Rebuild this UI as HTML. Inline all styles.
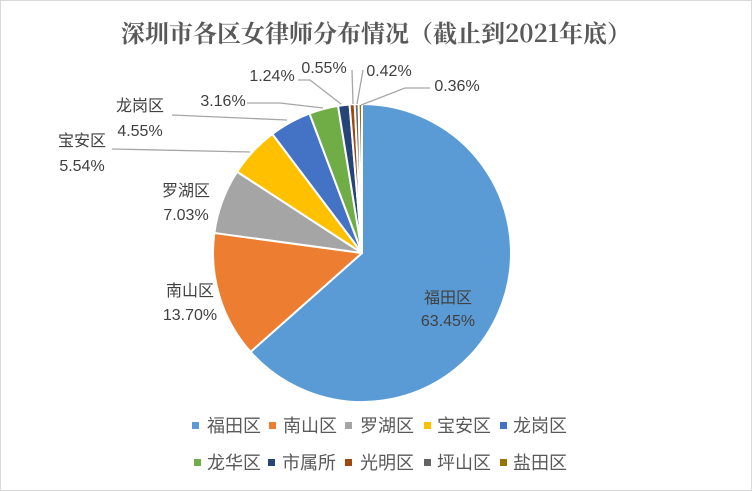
<!DOCTYPE html>
<html><head><meta charset="utf-8"><style>
body{margin:0;background:#fff}
svg{display:block;font-family:"Liberation Sans","Noto Sans CJK SC",sans-serif}
</style></head><body>
<svg id="s" width="752" height="491" viewBox="0 0 752 491">
<rect x="0.5" y="0.5" width="751" height="490" fill="#fff" stroke="#d9d9d9"/>
<text x="376" y="42" text-anchor="middle" font-family="'Noto Serif CJK SC',serif" font-size="24" font-weight="bold" fill="#595959">深圳市各区女律师分布情况（截止到2021年底）</text>
<g id="pie"></g>
<g stroke="#a6a6a6" stroke-width="1.3" fill="none">
<polyline points="112,149 250,152"/>
<polyline points="172,115 287,120"/>
<polyline points="247,103 280,103 323,108"/>
<polyline points="298,80 310,80 341,104"/>
<polyline points="352,70 353,104"/>
<polyline points="363,70 357,104"/>
<polyline points="430,88 405,88 361,105"/>
</g>
<g font-size="16" fill="#404040" text-anchor="middle">
<text x="448" y="303">福田区</text><text x="448" y="326">63.45%</text>
<text x="190" y="296">南山区</text><text x="190" y="320">13.70%</text>
<text x="186" y="196">罗湖区</text><text x="186" y="220">7.03%</text>
<text x="82" y="146">宝安区</text><text x="82" y="171">5.54%</text>
<text x="140" y="111">龙岗区</text><text x="140" y="136">4.55%</text>
<text x="223" y="106">3.16%</text>
<text x="272" y="81">1.24%</text>
<text x="324" y="73">0.55%</text>
<text x="389" y="76">0.42%</text>
<text x="457" y="91">0.36%</text>
</g>
<g font-size="18" fill="#595959">
<rect x="192" y="422" width="7" height="7" fill="#5B9BD5"/><text x="207" y="432">福田区</text>
<rect x="269" y="422" width="7" height="7" fill="#ED7D31"/><text x="283" y="432">南山区</text>
<rect x="345" y="422" width="7" height="7" fill="#A5A5A5"/><text x="360" y="432">罗湖区</text>
<rect x="424" y="422" width="7" height="7" fill="#FFC000"/><text x="437" y="432">宝安区</text>
<rect x="500" y="422" width="7" height="7" fill="#4472C4"/><text x="513" y="432">龙岗区</text>
<rect x="194" y="459" width="7" height="7" fill="#70AD47"/><text x="207" y="469">龙华区</text>
<rect x="268" y="459" width="7" height="7" fill="#264478"/><text x="282" y="469">市属所</text>
<rect x="345" y="459" width="7" height="7" fill="#9E480E"/><text x="360" y="469">光明区</text>
<rect x="424" y="459" width="7" height="7" fill="#636363"/><text x="437" y="469">坪山区</text>
<rect x="500" y="459" width="7" height="7" fill="#997300"/><text x="513" y="469">盐田区</text>
</g>
</svg>
<script>
var v=[63.45,13.70,7.03,5.54,4.55,3.16,1.24,0.55,0.42,0.36];
var c=["#5B9BD5","#ED7D31","#A5A5A5","#FFC000","#4472C4","#70AD47","#264478","#9E480E","#636363","#997300"];
var cx=362,cy=253,r=149,a=0,h="";
for(var i=0;i<v.length;i++){
 var b=a+v[i]/100*2*Math.PI;
 var x1=cx+r*Math.sin(a),y1=cy-r*Math.cos(a),x2=cx+r*Math.sin(b),y2=cy-r*Math.cos(b);
 h+='<path d="M'+cx+','+cy+'L'+x1.toFixed(2)+','+y1.toFixed(2)+'A'+r+','+r+' 0 '+((b-a)>Math.PI?1:0)+' 1 '+x2.toFixed(2)+','+y2.toFixed(2)+'Z" fill="'+c[i]+'" stroke="#fff" stroke-width="2" stroke-linejoin="round"/>';
 a=b;
}
document.getElementById("pie").innerHTML=h;
</script>
</body></html>
